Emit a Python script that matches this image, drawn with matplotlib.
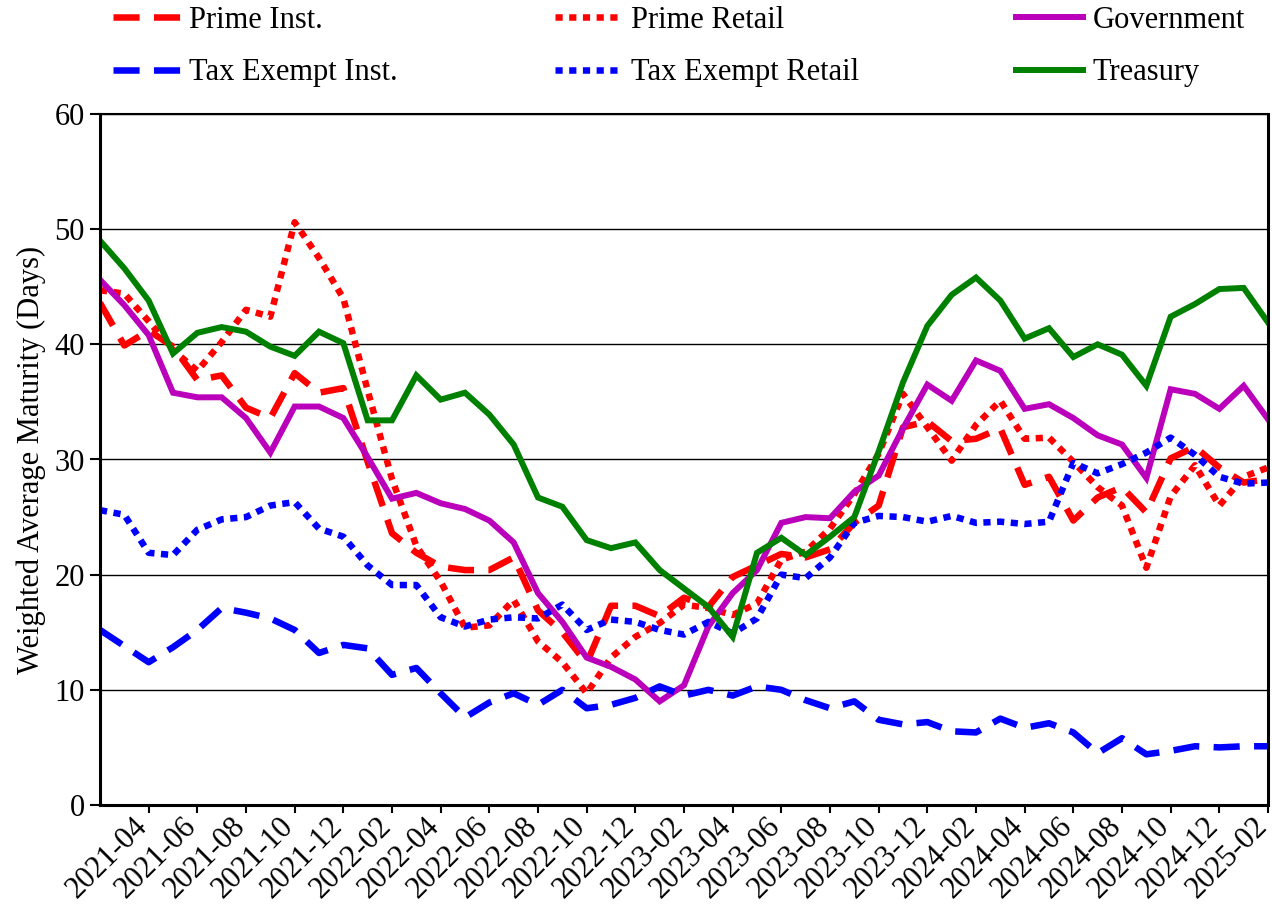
import matplotlib
matplotlib.use("Agg")
import matplotlib.pyplot as plt

# monthly observations, 2021-02 .. 2025-02
months = []
for y in range(2021, 2026):
    for m in range(1, 13):
        if (y == 2021 and m < 2) or (y == 2025 and m > 2):
            continue
        months.append(f"{y}-{m:02d}")

prime_inst = [43.6, 39.9, 41.2, 39.8, 36.9, 37.3, 34.5, 33.6, 37.5, 35.8,
              36.2, 29.8, 23.6, 21.9, 20.7, 20.4, 20.4, 21.5, 16.9, 15.0,
              12.3, 17.3, 17.3, 16.4, 18.0, 17.2, 19.8, 20.8, 21.8, 21.5,
              22.2, 24.5, 26.0, 32.8, 33.3, 31.6, 31.8, 32.7, 27.8, 28.5,
              24.7, 26.7, 27.6, 25.4, 30.1, 31.1, 29.3, 28.0, 28.3]
prime_retail = [44.7, 44.4, 42.0, 39.5, 37.7, 40.2, 43.0, 42.4, 50.6, 47.5,
                44.0, 36.0, 28.3, 22.5, 19.4, 15.4, 15.6, 17.8, 14.2, 12.4,
                9.7, 12.8, 14.6, 15.8, 17.4, 17.1, 16.5, 17.5, 21.3, 22.0,
                24.0, 27.0, 30.5, 35.7, 32.8, 29.9, 33.0, 35.1, 31.8, 31.9,
                29.8, 27.6, 26.0, 20.6, 26.8, 29.5, 26.0, 28.5, 29.3]
government = [45.6, 43.4, 40.8, 35.8, 35.4, 35.4, 33.6, 30.6, 34.6, 34.6,
              33.6, 30.2, 26.6, 27.1, 26.2, 25.7, 24.7, 22.8, 18.4, 15.9,
              12.8, 12.0, 10.9, 9.0, 10.4, 15.5, 18.4, 20.4, 24.5, 25.0,
              24.9, 27.2, 28.6, 32.7, 36.5, 35.1, 38.6, 37.7, 34.4, 34.8,
              33.6, 32.1, 31.3, 28.4, 36.1, 35.7, 34.4, 36.4, 33.5]
tax_exempt_inst = [15.2, 13.8, 12.4, 13.7, 15.2, 17.1, 16.7, 16.2, 15.2, 13.2,
                   13.9, 13.6, 11.3, 11.9, 9.7, 7.6, 8.9, 9.7, 8.7, 10.0,
                   8.4, 8.7, 9.3, 10.3, 9.5, 10.0, 9.5, 10.3, 10.0, 9.1,
                   8.4, 9.0, 7.4, 7.0, 7.2, 6.4, 6.3, 7.5, 6.7, 7.1,
                   6.3, 4.5, 5.8, 4.4, 4.7, 5.1, 5.0, 5.1, 5.1]
tax_exempt_retail = [25.6, 25.2, 21.9, 21.7, 23.9, 24.8, 25.0, 26.0, 26.3, 24.0,
                     23.3, 20.8, 19.1, 19.1, 16.3, 15.5, 16.1, 16.3, 16.2, 17.4,
                     15.2, 16.1, 15.9, 15.2, 14.8, 15.9, 14.9, 16.2, 20.0, 19.7,
                     21.5, 24.5, 25.1, 25.0, 24.6, 25.1, 24.5, 24.6, 24.4, 24.6,
                     29.7, 28.8, 29.6, 30.6, 31.9, 30.4, 28.5, 27.9, 28.0]
treasury = [49.0, 46.6, 43.8, 39.2, 41.0, 41.5, 41.1, 39.8, 39.0, 41.1,
            40.1, 33.4, 33.4, 37.3, 35.2, 35.8, 33.9, 31.3, 26.7, 25.9,
            23.0, 22.3, 22.8, 20.4, 18.8, 17.2, 14.6, 21.9, 23.2, 21.7,
            23.3, 25.0, 30.7, 36.7, 41.6, 44.3, 45.8, 43.8, 40.5, 41.4,
            38.9, 40.0, 39.1, 36.4, 42.4, 43.5, 44.8, 44.9, 41.9]

plt.rcParams["font.family"] = ["Liberation Serif", "DejaVu Serif"]
plt.rcParams["font.size"] = 22

DASH = (4, 2.2)
DOT = (1.1, 1.0)
LW = 4.7

series = [
    ("Prime Inst.", prime_inst, "#ff0000", DASH),
    ("Prime Retail", prime_retail, "#ff0000", DOT),
    ("Government", government, "#bb00bb", None),
    ("Tax Exempt Inst.", tax_exempt_inst, "#0000ff", DASH),
    ("Tax Exempt Retail", tax_exempt_retail, "#0000ff", DOT),
    ("Treasury", treasury, "#008000", None),
]

fig = plt.figure(figsize=(12.72, 9.13), dpi=100)
ax = fig.add_axes([100 / 1272, 1 - 805 / 913, 1168 / 1272, 691 / 913])

x = list(range(len(months)))
handles = {}
for name, vals, color, dashes in series:
    if dashes:
        ln, = ax.plot(x, vals, color=color, lw=LW, dashes=dashes,
                      dash_capstyle="butt", solid_joinstyle="miter")
    else:
        ln, = ax.plot(x, vals, color=color, lw=LW - 0.4,
                      solid_joinstyle="miter")
    handles[name] = ln

ax.set_xlim(0, len(months) - 1)
ax.set_ylim(0, 60)
ax.set_yticks(range(0, 61, 10))
ax.yaxis.grid(True, color="black", lw=1.0)
ax.set_axisbelow(True)

tick_idx = list(range(2, len(months), 2))
ax.set_xticks(tick_idx)
ax.set_xticklabels([months[i] for i in tick_idx], rotation=45,
                   ha="right", va="baseline", rotation_mode="anchor")
ax.tick_params(axis="x", length=6, width=1.5, pad=10, direction="out")
ax.tick_params(axis="y", length=7, width=1.5, pad=4, direction="out")

for side in ["left", "bottom", "right"]:
    ax.spines[side].set_linewidth(2.2)
    ax.spines[side].set_color("black")
ax.spines["top"].set_linewidth(1.5)

ax.set_ylabel("Weighted Average Maturity (Days)", labelpad=6)

# legend: three columns placed by their handle positions
columns = [
    (113, ["Prime Inst.", "Tax Exempt Inst."]),
    (555, ["Prime Retail", "Tax Exempt Retail"]),
    (1016, ["Government", "Treasury"]),
]
for x0, names in columns:
    fig.legend([handles[n] for n in names], names, loc="upper left",
               bbox_to_anchor=(x0 / 1272, 1 - 6 / 913), frameon=False,
               borderpad=0, borderaxespad=0, handlelength=2.2,
               handletextpad=0.3, labelspacing=0.76)

fig.savefig("out.png", dpi=100)
